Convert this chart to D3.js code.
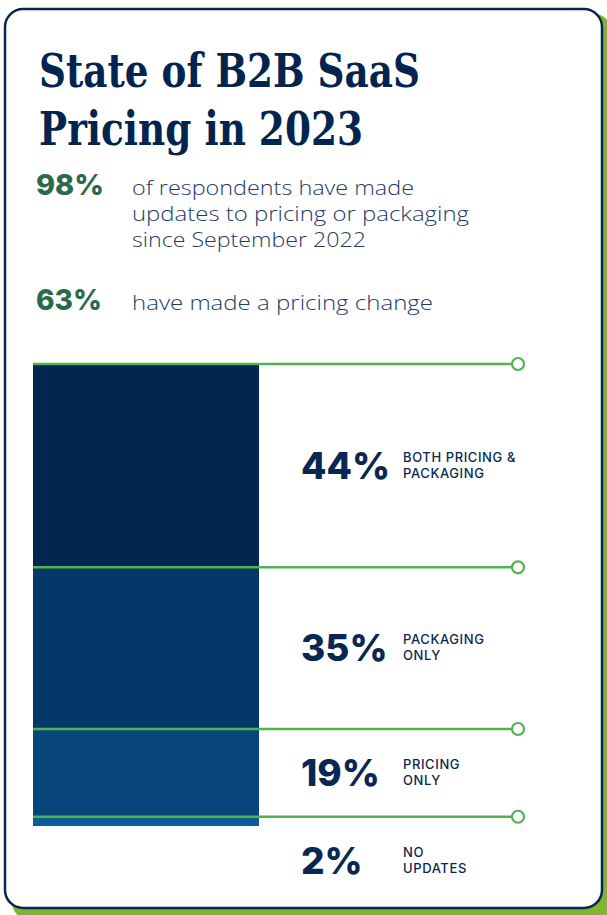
<!DOCTYPE html>
<html>
<head>
<meta charset="utf-8">
<script src="https://cdn.jsdelivr.net/npm/d3@7"></script>
<style>
  html, body { margin: 0; padding: 0; background: #fff; }
  svg { display: block; }
</style>
</head>
<body>
<svg id="chart"></svg>
<script>
(function() {

  // data
  const titleLines = ['State of B2B SaaS', 'Pricing in 2023'];
  const statValues = ['98%', '63%'];
  const statTexts = [
    ['of respondents have made', 'updates to pricing or packaging', 'since September 2022'],
    ['have made a pricing change']
  ];
  const categories = [['BOTH PRICING &', 'PACKAGING'], ['PACKAGING', 'ONLY'], ['PRICING', 'ONLY'], ['NO', 'UPDATES']];
  const shares = [44, 35, 19, 2];
  const barColors = ['#02264f', '#05376b', '#08457a', '#0b5c98'];

  const width = 607;
  const height = 915;
  const navy = '#0a2753';
  const green = '#4fb34f';

  const svg = d3.select('#chart')
    .attr('width', width)
    .attr('height', height);

  // card with green offset shadow
  svg.append('rect')
    .attr('x', 12).attr('y', 14)
    .attr('width', 600).attr('height', 906)
    .attr('rx', 18)
    .attr('fill', '#7cb82f');

  svg.append('rect')
    .attr('x', 5).attr('y', 9)
    .attr('width', 597).attr('height', 899)
    .attr('rx', 18)
    .attr('fill', '#fff')
    .attr('stroke', navy)
    .attr('stroke-width', 2.5);

  // title
  const titleWidths = [381, 324];
  const titleGroup = svg.append('g').attr('class', 'title-group');
  titleGroup.selectAll('text')
    .data(titleLines)
    .enter()
    .append('text')
    .attr('x', 39)
    .attr('y', function(d, i) { return 87 + i * 58; })
    .attr('textLength', function(d, i) { return titleWidths[i]; })
    .attr('lengthAdjust', 'spacingAndGlyphs')
    .style('font-family', '"DejaVu Serif", serif')
    .style('font-weight', 'bold')
    .style('font-size', '47px')
    .style('fill', '#02244f')
    .text(function(d) { return d; });

  // headline stats
  const statY = [195, 310];
  const statLineWidths = [[282, 337, 234], [301]];
  const statGroup = svg.append('g').attr('class', 'stat-group');
  statValues.forEach(function(v, i) {
    statGroup.append('text')
      .attr('x', 36)
      .attr('y', statY[i])
      .attr('textLength', i === 0 ? 68 : 66)
      .attr('lengthAdjust', 'spacingAndGlyphs')
      .style('font-family', 'Inter, sans-serif')
      .style('font-weight', 800)
      .style('font-size', '29px')
      .style('fill', '#2a6b4b')
      .text(v);

    statGroup.selectAll('text.line' + i)
      .data(statTexts[i])
      .enter()
      .append('text')
      .attr('class', 'line' + i)
      .attr('x', 132)
      .attr('y', function(d, j) { return statY[i] + j * 26; })
      .attr('textLength', function(d, j) { return statLineWidths[i][j]; })
      .attr('lengthAdjust', 'spacingAndGlyphs')
      .style('font-family', '"Open Sans", sans-serif')
      .style('font-weight', 300)
      .style('font-size', '21px')
      .style('fill', '#1f3a68')
      .text(function(d) { return d; });
  });

  // stacked bar
  const stacked = [];
  let acc = 0;
  shares.forEach(function(s, i) {
    stacked.push({ start: acc, end: acc + s, value: s, label: categories[i], color: barColors[i] });
    acc += s;
  });

  const y = d3.scaleLinear().domain([0, 100]).range([364, 826]);
  const barX = 33, barW = 226;
  const lineEnd = 511, dotX = 518;

  const barGroup = svg.append('g').attr('class', 'bar-group');
  barGroup.selectAll('rect')
    .data(stacked)
    .enter()
    .append('rect')
    .attr('x', barX)
    .attr('y', function(d) { return y(d.start); })
    .attr('width', barW)
    .attr('height', function(d) { return y(d.end) - y(d.start); })
    .attr('fill', function(d) { return d.color; });

  // green leader lines at the top of each segment
  const leaders = svg.append('g').attr('class', 'leaders');
  leaders.selectAll('line')
    .data(stacked)
    .enter()
    .append('line')
    .attr('x1', barX)
    .attr('x2', lineEnd)
    .attr('y1', function(d) { return y(d.start); })
    .attr('y2', function(d) { return y(d.start); })
    .attr('stroke', green)
    .attr('stroke-width', 2.5);

  leaders.selectAll('circle')
    .data(stacked)
    .enter()
    .append('circle')
    .attr('cx', dotX)
    .attr('cy', function(d) { return y(d.start); })
    .attr('r', 6)
    .attr('fill', '#fff')
    .attr('stroke', green)
    .attr('stroke-width', 2.2);

  // labels
  const labelBase = function(d) {
    const h = y(d.end) - y(d.start);
    const mid = (y(d.start) + y(d.end)) / 2;
    return (h < 40 ? y(d.end) + 35 : mid) + 13;
  };

  const labels = svg.append('g').attr('class', 'labels')
    .selectAll('g')
    .data(stacked)
    .enter()
    .append('g');

  labels.append('text')
    .attr('x', 301)
    .attr('y', labelBase)
    .style('font-family', 'Inter, sans-serif')
    .style('font-weight', 800)
    .style('font-size', '37px')
    .style('fill', navy)
    .text(function(d) { return d.value + '%'; });

  labels.each(function(d) {
    d3.select(this).selectAll('text.cat')
      .data(d.label)
      .enter()
      .append('text')
      .attr('class', 'cat')
      .attr('x', 403)
      .attr('y', function(t, j) { return labelBase(d) - 17 + j * 16; })
      .style('font-family', 'Inter, sans-serif')
      .style('font-weight', 500)
      .style('font-size', '13px')
      .style('letter-spacing', '0.6px')
      .style('fill', navy)
      .text(function(t) { return t; });
  });

})();
</script>
</body>
</html>
